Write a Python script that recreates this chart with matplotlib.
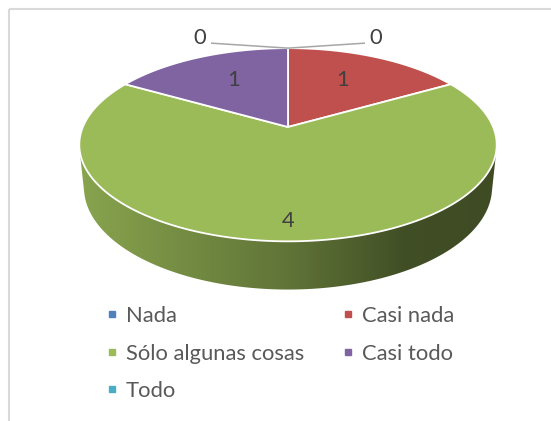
import numpy as np
import matplotlib
matplotlib.use("Agg")
import matplotlib.pyplot as plt
from matplotlib.patches import Polygon, Rectangle
from matplotlib.lines import Line2D
from matplotlib.colors import to_rgb

# ---- data ----
categories = ["Nada", "Casi nada", "Sólo algunas cosas", "Casi todo", "Todo"]
values = [0, 1, 4, 1, 0]
colors = ["#4F81BD", "#C0504D", "#9BBB59", "#8064A2", "#4BACC6"]

# ---- layout / style ----
W, H = 551, 421
FONT = "Lato"
FS = 15.8
label_r = [0.0, 0.58, 0.85, 0.58, 0.0]   # radial position of in-slice labels
label_dy = [0, -4, 0, -4, 0]

fig = plt.figure(figsize=(W / 100, H / 100), dpi=100)
ax = fig.add_axes([0, 0, 1, 1])

# chart frame
ax.add_patch(Rectangle((9, 9), W + 20, H + 20, fill=False,
                       edgecolor="#d9d9d9", lw=1.5))

# ---- simple perspective camera for a 3D pie ----
elev = np.arcsin(0.455)
Dcam = 4.85
K = 995
CX, CY = 288, 127
thick = 0.235
ce, se = np.cos(elev), np.sin(elev)


def proj(x, y, z):
    px, py, pz = x, y + Dcam * ce, z - Dcam * se
    depth = py * ce - pz * se
    yr = py * se + pz * ce
    return CX + K * px / depth, CY - K * yr / depth


total = float(sum(values))
ends = np.cumsum(values) / total * 360.0
starts = ends - np.array(values) / total * 360.0


def world(theta_deg, r=1.0):
    phi = np.radians(90.0 - theta_deg)
    return r * np.cos(phi), r * np.sin(phi)


def slice_at(theta):
    for i, (a, b) in enumerate(zip(starts, ends)):
        if values[i] > 0 and a <= theta < b:
            return i
    return 0


# ---- side (rim), visible front part, with horizontal shading ----
amin = np.arcsin(1.0 / (Dcam * ce))
phis = np.linspace(np.pi + amin, 2 * np.pi - amin, 400)
top = [proj(np.cos(p), np.sin(p), 0) for p in phis]
bot = [proj(np.cos(p), np.sin(p), -thick) for p in phis]
side_pts = top + bot[::-1]
side_poly = Polygon(side_pts, closed=True, facecolor="none", edgecolor="none")
ax.add_patch(side_poly)

xs_top = np.array([t[0] for t in top])
allx = np.array([q[0] for q in side_pts])
ally = np.array([q[1] for q in side_pts])
x0, x1 = np.floor(allx.min()), np.ceil(allx.max())
y0, y1 = np.floor(ally.min()), np.ceil(ally.max())
cols = np.arange(x0, x1) + 0.5
img = np.zeros((1, len(cols), 3))
for j, xc in enumerate(cols):
    ph = np.interp(xc, xs_top, phis)
    th = (90.0 - np.degrees(ph)) % 360.0
    i = slice_at(th)
    t = (xc - x0) / (x1 - x0)
    shade = np.interp(t, [0, 0.5, 0.78, 1.0], [0.88, 0.62, 0.42, 0.40])
    img[0, j] = np.clip(np.array(to_rgb(colors[i])) * shade, 0, 1)
im = ax.imshow(img, extent=(x0, x1, y1, y0), aspect="auto",
               interpolation="bilinear", zorder=1)
im.set_clip_path(side_poly)

# ---- top faces ----
for i, v in enumerate(values):
    if v <= 0:
        continue
    ts = np.linspace(starts[i], ends[i], 200)
    pts = [proj(0, 0, 0)] + [proj(*world(t), 0) for t in ts]
    ax.add_patch(Polygon(pts, closed=True, facecolor=colors[i],
                         edgecolor="white", lw=1.3, joinstyle="round", zorder=2))

# ---- data labels ----
for i, v in enumerate(values):
    if v > 0:
        mid = 0.5 * (starts[i] + ends[i])
        lx, ly = proj(*world(mid, label_r[i]), 0)
        ax.text(lx, ly + label_dy[i], f"{v}", ha="center", va="center",
                fontsize=FS, color="#404040", family=FONT, zorder=3)
    else:
        fx, fy = proj(*world(starts[i]), 0)
        sgn = 1 if starts[i] < 180 else -1
        ax.plot([fx, fx + sgn * 77], [fy, fy - 5], color="#a6a6a6", lw=1.1,
                solid_capstyle="butt", zorder=3)
        ax.text(fx + sgn * 88, fy - 10, f"{v}", ha="center", va="center",
                fontsize=FS, color="#404040", family=FONT, zorder=3)

# ---- legend (row-first order) ----
order = [0, 2, 4, 1, 3]
handles = [Line2D([], [], marker="s", linestyle="none", markersize=5,
                  markerfacecolor=colors[i], markeredgecolor=colors[i]) for i in order]
labels = [categories[i] for i in order]
leg = ax.legend(handles, labels, ncol=2, loc="upper left",
                bbox_to_anchor=(104.0, 306), bbox_transform=ax.transData,
                frameon=False, borderpad=0, borderaxespad=0,
                handlelength=0.7, handletextpad=0.3, columnspacing=1.65,
                labelspacing=0.8, prop={"family": FONT, "size": FS})
for txt in leg.get_texts():
    txt.set_color("#595959")

ax.set_xlim(0, W)
ax.set_ylim(H, 0)
ax.axis("off")

fig.savefig("out.png", dpi=100)
